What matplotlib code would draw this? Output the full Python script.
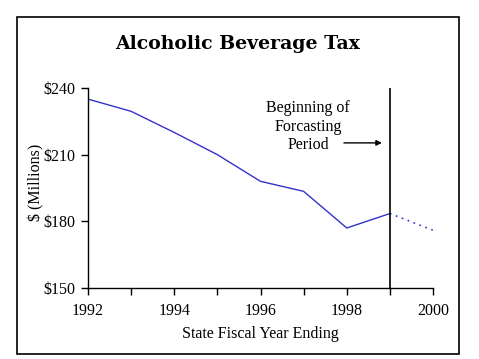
import matplotlib
matplotlib.use("Agg")
import matplotlib.pyplot as plt
from matplotlib.patches import Rectangle

years = [1992, 1993, 1994, 1995, 1996, 1997, 1998, 1999]
revenue = [235.0, 229.5, 220.0, 210.0, 198.0, 193.5, 177.0, 183.5]
forecast_years = [1999, 2000]
forecast = [183.5, 176.0]
forecast_start = 1999
xticks = [1992, 1994, 1996, 1998, 2000]
yticks = [150, 180, 210, 240]
ytick_labels = ["$150", "$180", "$210", "$240"]

plt.rcParams['font.family'] = ['Liberation Serif', 'DejaVu Serif']

W, H = 479, 359
fig = plt.figure(figsize=(W / 100, H / 100), dpi=100)
ax = fig.add_axes([88 / W, 1 - 288 / H, (433 - 88) / W, 200 / H])

ax.plot(years, revenue, color='#3333cc', lw=1.0)
ax.plot(forecast_years, forecast, color='#3333cc', lw=1.2, linestyle=(0, (1, 2.8)))
ax.axvline(forecast_start, color='black', lw=1.2)

ax.set_xlim(1992, 2000)
ax.set_ylim(150, 240)
ax.set_xticks(xticks)
ax.set_xticks(range(1992, 2001), minor=True)
ax.set_yticks(yticks)
ax.set_yticklabels(ytick_labels)
ax.tick_params(axis='both', which='both', direction='out', length=5, width=1, labelsize=11.5, colors='black')
ax.tick_params(axis='x', pad=6)
ax.tick_params(axis='y', pad=4)
for s in ['top', 'right']:
    ax.spines[s].set_visible(False)
for s in ['left', 'bottom']:
    ax.spines[s].set_linewidth(1.0)

ax.set_xlabel('State Fiscal Year Ending', fontsize=11.5, labelpad=5)
ax.set_ylabel('$ (Millions)', fontsize=11.5, labelpad=0)
ax.yaxis.set_label_coords(-0.125, 0.53)

ax.text(1997.1, 234.5, 'Beginning of\nForcasting\nPeriod', fontsize=11.5, ha='center', va='top',
        linespacing=1.2)
ax.annotate('', xy=(1998.88, 215.3), xytext=(1997.87, 215.3),
            arrowprops=dict(arrowstyle='-|>', color='black', lw=1, mutation_scale=8))

fig.text(238 / W, 1 - 49 / H, 'Alcoholic Beverage Tax', fontsize=13.6, fontweight='bold',
         family=['DejaVu Serif'], ha='center', va='baseline')

fig.patches.append(Rectangle((17 / W, 1 - 354 / H), (459 - 17) / W, (354 - 17) / H,
                             transform=fig.transFigure, fill=False, edgecolor='black', lw=1.2))

fig.savefig('out.png', dpi=100)
